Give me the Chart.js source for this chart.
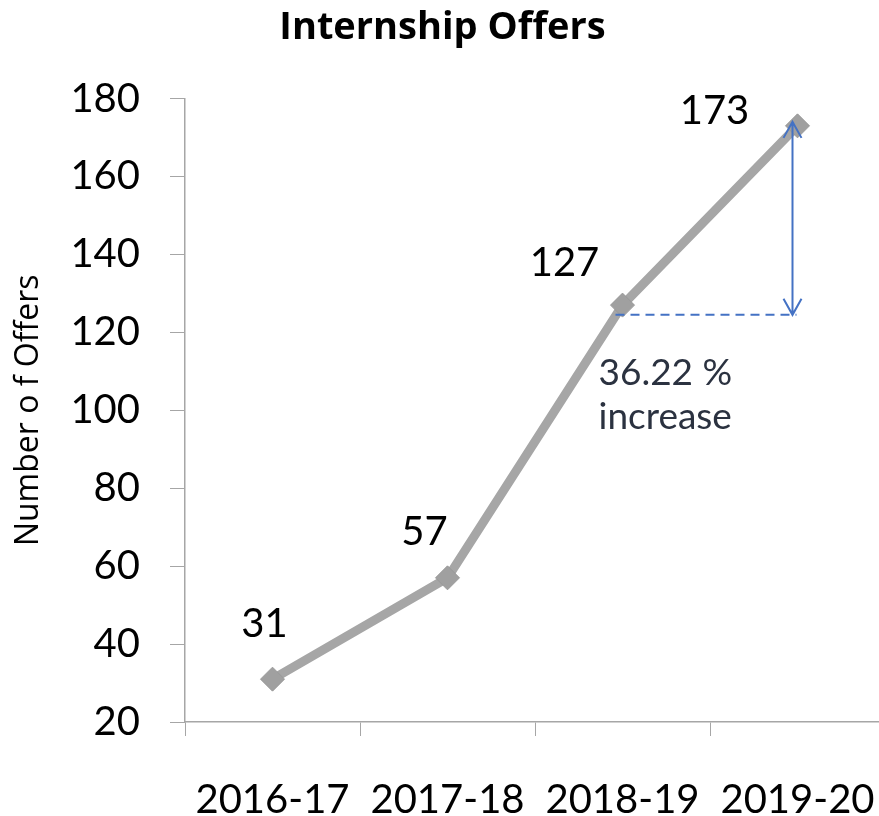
<!DOCTYPE html>
<html>
<head>
<meta charset="utf-8">
<script src="https://cdn.jsdelivr.net/npm/chart.js@4.4.1/dist/chart.umd.min.js"></script>
<style>
  html, body { margin: 0; padding: 0; background: #fff; overflow: hidden; width: 879px; height: 816px; }
  canvas { display: block; }
</style>
</head>
<body>
<canvas id="chartOffers" width="890" height="816"></canvas>
<script>
// data
const years = ["2016-17", "2017-18", "2018-19", "2019-20"];
const offers = [31, 57, 127, 173];
const yMin = 20;
const yMax = 180;
const yStep = 20;
const increaseText = ["36.22 %", "increase"];
const increaseBase = 124.5; // level of the dashed guide line

// label positions (pixels from the point, text centre)
const labelShift = [[-8, -55], [-23, -46], [-58, -42], [-83, -15]];

const labelsPlugin = {
  id: "offerLabels",
  afterDatasetsDraw(chart) {
    const ctx = chart.ctx;
    const xs = chart.scales.x;
    const ys = chart.scales.y;
    const meta = chart.getDatasetMeta(0);

    ctx.save();
    ctx.font = "40px Lato";
    ctx.fillStyle = "#000";
    ctx.textAlign = "center";
    ctx.textBaseline = "middle";
    meta.data.forEach((pt, i) => {
      ctx.fillText(String(offers[i]), pt.x + labelShift[i][0], pt.y + labelShift[i][1]);
    });

    // increase arrow + dashed guide
    const last = offers.length - 1;
    const ax = xs.getPixelForValue(last) - 5;
    const top = ys.getPixelForValue(offers[last]) - 4;
    const bot = ys.getPixelForValue(increaseBase);
    ctx.strokeStyle = "#4472c4";
    ctx.lineWidth = 2;
    ctx.beginPath();
    ctx.moveTo(ax, top);
    ctx.lineTo(ax, bot);
    ctx.moveTo(ax - 9, top + 16);
    ctx.lineTo(ax, top);
    ctx.lineTo(ax + 9, top + 16);
    ctx.moveTo(ax - 9, bot - 16);
    ctx.lineTo(ax, bot);
    ctx.lineTo(ax + 9, bot - 16);
    ctx.stroke();

    ctx.setLineDash([9, 6]);
    ctx.beginPath();
    ctx.moveTo(xs.getPixelForValue(last - 1) - 7, bot);
    ctx.lineTo(ax + 4, bot);
    ctx.stroke();
    ctx.setLineDash([]);

    ctx.font = "37px Lato";
    ctx.fillStyle = "#2b3240";
    ctx.textAlign = "left";
    ctx.textBaseline = "alphabetic";
    const tx = xs.getPixelForValue(last - 1) - 24;
    ctx.fillText(increaseText[0], tx, bot + 70);
    ctx.fillText(increaseText[1], tx, bot + 114);
    ctx.restore();
  },
};

const ctx = document.getElementById("chartOffers").getContext("2d");
const axisGray = "#a6a6a6";

const chart = new Chart(ctx, {
  type: "line",
  data: {
    labels: years,
    datasets: [
      {
        label: "Offers",
        data: offers,
        borderColor: "#a6a6a6",
        borderWidth: 9,
        pointStyle: "rectRot",
        pointRadius: 12,
        pointBackgroundColor: "#a0a0a0",
        pointBorderColor: "#999999",
        pointBorderWidth: 1,
        tension: 0,
      },
    ],
  },
  options: {
    responsive: false,
    animation: false,
    devicePixelRatio: 1,
    layout: { autoPadding: false, padding: { left: 0, right: 5, top: 0, bottom: 0 } },
    plugins: {
      legend: { display: false },
      tooltip: { enabled: false },
      title: {
        display: true,
        text: "Internship Offers",
        color: "#000",
        font: { family: "Open Sans", size: 38, weight: "bold" },
        padding: { top: 5, bottom: 48 },
      },
    },
    scales: {
      x: {
        offset: true,
        grid: {
          offset: true,
          drawOnChartArea: false,
          drawTicks: true,
          tickLength: 14,
          color: axisGray,
        },
        border: { display: true, color: axisGray, width: 1.5 },
        ticks: {
          color: "#000",
          padding: 40,
          font: { family: "Lato", size: 40 },
          maxRotation: 0,
        },
        afterFit(scale) {
          scale.height = 94;
          scale.paddingLeft = 0;
          scale.paddingRight = 0;
        },
      },
      y: {
        min: yMin,
        max: yMax,
        grid: {
          drawOnChartArea: false,
          drawTicks: true,
          tickLength: 15,
          color: axisGray,
        },
        border: { display: true, color: axisGray, width: 1.5 },
        ticks: {
          stepSize: yStep,
          color: "#000",
          padding: 30,
          font: { family: "Lato", size: 40 },
        },
        title: {
          display: true,
          text: "Number o f Offers",
          color: "#000",
          font: { family: "Open Sans", size: 32 },
          padding: { top: 10, bottom: 0 },
        },
        afterFit(scale) {
          scale.width = 185;
          scale.paddingTop = 0;
          scale.paddingBottom = 0;
        },
      },
    },
  },
  plugins: [labelsPlugin],
});
</script>
</body>
</html>
